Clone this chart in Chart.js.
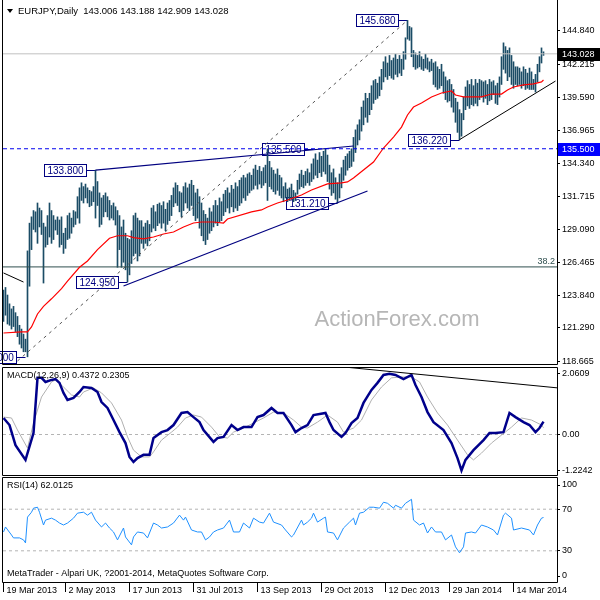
<!DOCTYPE html>
<html>
<head>
<meta charset="utf-8">
<title>EURJPY Daily</title>
<script src="https://cdn.jsdelivr.net/npm/chart.js@4.4.1/dist/chart.umd.min.js"></script>
<style>
  html, body { margin: 0; padding: 0; background: #fff; }
  #wrap { position: relative; width: 600px; height: 600px; overflow: hidden; background: #fff; }
  #wrap canvas { position: absolute; left: 0; }
</style>
</head>
<body>
<div id="wrap">
  <canvas id="priceChart" width="600" height="366" style="top:0px"></canvas>
  <canvas id="macdChart" width="600" height="110" style="top:366px"></canvas>
  <canvas id="rsiChart" width="600" height="124" style="top:476px"></canvas>
</div>
<script>
// ---- data (bar index 0 = 18 Mar 2013, daily bars) ----
var priceHigh = [
  124.6,124.3,124.5,123.9,123.2,122.8,123.0,122.5,122.2,121.5,
  121.2,120.8,120.4,127.4,129.6,130.1,130.6,130.5,131.2,130.8,
  130.6,129.6,129.3,130.2,131.2,130.6,130.2,129.85,130.1,129.85,
  130.1,128.8,129.2,130.2,130.4,130.0,130.6,130.5,131.7,132.4,
  132.8,132.5,132.7,132.4,132.2,132.1,132.5,133.8,132.9,132.0,
  131.6,131.8,132.0,131.7,131.4,131.0,131.2,130.9,130.6,130.2,
  129.3,129.85,128.8,128.4,128.3,129.0,130.2,130.4,130.0,129.8,
  129.8,129.3,129.6,129.8,129.5,130.8,131.0,130.5,131.1,131.2,
  131.0,131.3,130.7,131.2,131.4,131.8,132.4,132.8,132.6,132.1,
  132.0,132.5,132.8,132.4,132.7,133.0,132.6,132.0,132.3,131.7,
  131.2,130.6,130.3,130.0,130.8,130.5,131.0,131.4,131.0,131.6,
  131.3,131.9,132.2,132.4,132.0,132.6,132.3,132.8,132.5,133.0,
  133.2,133.4,133.2,133.5,133.6,133.4,133.9,134.2,133.8,134.1,
  133.7,134.0,134.2,135.5,134.5,134.0,133.8,133.5,133.9,133.4,
  133.2,132.5,132.8,132.3,132.4,132.7,132.2,132.0,133.0,133.5,
  133.8,133.4,133.7,133.9,133.6,134.3,134.7,135.1,134.6,135.2,
  134.9,135.3,135.5,135.0,134.2,133.6,133.9,133.2,132.8,133.5,
  134.0,134.6,134.9,135.1,135.3,135.5,136.4,137.0,137.4,137.8,
  138.8,139.3,139.9,139.5,139.9,140.5,140.9,141.0,140.7,141.2,
  141.8,142.4,142.8,142.3,142.9,142.5,142.7,143.0,142.6,142.9,
  142.6,143.2,144.3,145.68,145.2,145.1,143.3,143.1,142.9,143.2,
  142.8,142.6,143.0,142.7,142.4,142.6,142.3,142.4,142.0,141.8,
  142.2,141.6,141.2,140.9,141.0,140.6,140.2,139.5,139.2,138.6,
  138.3,139.6,140.4,140.9,140.6,141.0,140.5,141.0,140.7,141.0,
  140.9,140.8,140.9,140.6,141.0,140.8,140.9,140.5,140.7,141.2,
  142.8,143.9,143.6,143.3,143.5,142.9,142.4,142.0,142.0,141.9,
  141.6,142.0,141.8,141.5,141.9,141.6,141.0,141.4,142.2,142.8,
  143.5,143.188
];
var priceLow = [
  122.0,121.8,122.3,121.6,121.5,121.2,121.4,121.0,120.6,120.0,
  119.7,119.4,119.4,119.0,124.6,127.5,129.1,128.9,128.0,129.3,
  128.7,124.85,127.7,127.9,128.5,128.0,128.3,129.05,128.7,127.7,
  127.9,127.2,127.6,128.3,128.4,128.8,129.3,129.5,130.0,129.6,
  131.4,131.2,131.6,131.2,130.9,131.0,131.3,130.0,131.0,129.3,
  129.5,130.1,130.5,130.1,129.85,130.0,129.85,129.45,126.1,127.5,
  126.1,126.5,125.9,124.95,125.5,126.4,127.0,127.2,126.6,127.0,
  128.0,127.6,128.0,127.8,128.2,128.9,129.2,129.0,129.4,129.6,
  129.2,129.6,129.0,129.5,129.8,130.2,130.9,131.2,131.0,130.5,
  130.1,130.6,131.2,130.8,130.6,131.0,130.2,129.8,130.0,129.2,
  128.6,128.2,127.9,128.3,128.8,129.0,129.3,129.6,129.4,129.7,
  129.8,130.2,130.5,130.8,130.4,130.9,130.5,130.8,130.6,131.0,
  131.2,131.6,131.4,131.8,132.0,132.2,132.3,132.6,132.3,132.7,
  132.4,132.6,132.8,131.4,132.5,132.3,132.1,131.9,132.2,131.8,
  131.6,131.3,131.6,131.3,131.4,131.5,131.3,131.4,131.9,132.3,
  132.5,132.4,132.6,132.8,132.6,132.9,133.1,133.4,133.2,133.6,
  133.3,133.7,133.5,132.9,132.3,131.8,132.0,131.5,131.21,131.6,
  132.4,133.0,133.4,133.8,134.0,134.1,134.5,135.2,135.8,136.2,
  136.9,137.4,138.0,137.6,138.2,138.6,139.1,139.4,139.5,139.7,
  140.2,140.8,141.2,141.0,141.3,141.1,141.0,141.4,141.2,141.5,
  141.3,141.8,142.6,144.2,144.1,142.8,142.0,141.8,141.9,142.0,
  141.8,141.7,141.9,141.8,141.6,141.7,140.6,140.4,140.2,140.3,
  140.5,139.9,139.4,139.2,139.3,138.8,138.4,137.6,136.8,136.22,
  136.5,137.8,138.6,138.9,138.7,139.0,138.9,139.1,138.9,139.4,
  139.6,139.2,139.5,139.0,139.3,139.4,139.8,139.1,139.0,139.6,
  140.6,141.8,141.5,140.9,141.2,140.6,140.3,140.6,140.5,140.6,
  140.3,140.5,140.2,140.3,140.2,140.2,140.2,140.0,140.8,141.6,
  142.3,142.909
];

var maBars   = [1,10,13,15,18,21,25,30,33,39,43,48,54,58,63,66,71,76,81,86,91,96,100,106,111,113,125,130,133,138,143,150,155,163,170,173,176,181,186,191,196,200,203,206,210,215,220,225,227,231,235,240,245,250,253,256,261,266,270,271];
var maValues = [120.89,120.97,120.97,121.37,122.4,123.0,123.6,124.4,125.0,126.1,126.6,127.5,128.4,128.6,128.6,128.45,128.35,128.5,128.74,128.9,129.3,129.61,129.69,129.69,129.61,129.93,130.49,130.65,130.88,131.2,131.44,131.83,132.23,132.71,132.79,132.87,133.18,133.82,134.45,135.56,136.43,137.22,138.18,138.81,139.13,139.61,139.92,140.08,139.76,139.61,139.61,139.61,139.84,139.84,140.16,140.4,140.56,140.64,140.8,140.95];

var macdBars   = [1,4,7,12,16,18,20,22,25,27,29,31,33,36,39,41,45,48,50,53,56,59,62,64,66,68,71,74,76,80,83,86,90,93,96,99,101,106,108,111,115,118,121,125,128,131,135,138,141,145,147,150,153,156,162,164,166,170,172,175,178,181,185,188,191,194,197,201,205,207,210,213,216,221,225,228,230,232,236,241,244,247,251,254,257,261,264,267,269,271];
var macdValues = [0.56,0.32,-0.36,-0.86,0.05,1.92,1.92,1.78,1.85,1.88,1.75,1.41,1.17,1.24,1.44,1.61,1.58,1.44,1.10,0.90,0.49,0.08,-0.29,-0.76,-0.93,-0.80,-0.69,-0.69,-0.12,0.08,0.15,0.32,0.73,0.76,0.59,0.42,0.15,-0.25,-0.12,-0.08,0.32,0.15,0.25,0.25,0.59,0.66,0.90,0.73,0.73,0.32,0.08,0.22,0.32,0.66,0.73,0.42,0.15,-0.08,0.05,0.39,0.56,1.07,1.51,1.75,2.02,2.06,2.02,1.88,2.02,1.68,1.27,0.76,0.42,0.15,-0.29,-0.80,-1.22,-0.86,-0.53,-0.19,0.05,0.05,0.08,0.73,0.59,0.42,0.32,0.08,0.22,0.4372];
var signalBars   = [1,5,8,13,16,20,25,27,31,35,39,41,46,50,55,60,63,66,70,74,76,80,85,88,92,96,100,105,109,113,116,121,126,131,136,141,146,150,153,158,163,168,171,176,180,185,190,195,200,205,209,213,218,223,228,233,236,240,245,250,255,260,265,270,271];
var signalValues = [0.59,0.56,0.15,-0.46,0.39,1.27,1.78,1.85,1.61,1.34,1.27,1.44,1.58,1.41,1.07,0.49,-0.08,-0.53,-0.76,-0.76,-0.59,-0.19,0.08,0.25,0.56,0.66,0.59,0.25,-0.08,-0.12,0.08,0.22,0.39,0.56,0.76,0.73,0.49,0.25,0.22,0.42,0.66,0.42,0.08,0.22,0.49,1.17,1.61,1.92,1.95,1.95,1.78,1.27,0.73,0.32,-0.19,-0.69,-0.86,-0.63,-0.29,-0.02,0.25,0.56,0.49,0.32,0.2305];

var rsiBars   = [1,2,5,6,9,11,12,13,15,16,18,19,21,22,25,27,29,31,33,36,38,41,43,45,47,50,52,54,56,58,61,62,65,66,68,71,73,76,78,80,83,86,89,91,92,95,98,100,102,104,106,108,111,114,116,119,121,124,126,129,131,134,136,140,142,145,146,150,151,153,155,156,158,161,162,163,166,168,171,174,176,177,179,181,184,186,189,191,193,196,197,200,202,205,206,209,211,213,215,217,220,222,225,227,229,231,232,235,237,240,243,246,248,251,252,255,256,260,264,266,268,270,271];
var rsiValues = [48.1,52.9,45.2,42.4,42.4,40.5,37.6,62.4,67.1,71.0,71.9,67.1,54.8,59.5,61.4,59.5,56.7,54.8,56.7,61.4,66.2,67.1,64.3,67.1,59.5,52.9,56.7,51.9,48.1,40.5,51.9,43.3,35.7,43.3,48.1,47.1,42.4,56.7,54.8,51.9,52.9,56.7,64.3,59.5,62.4,50.0,48.1,48.1,40.5,43.3,48.1,50.0,51.9,59.5,48.1,48.1,56.7,51.9,61.4,57.6,56.7,66.2,57.6,54.8,50.0,43.3,45.2,59.5,54.8,57.6,61.4,66.2,57.6,61.4,62.4,48.1,47.1,40.5,51.9,57.6,61.4,54.8,66.2,67.1,71.9,71.9,71.0,76.7,75.7,71.0,73.8,71.0,75.7,79.5,59.5,54.8,56.7,47.1,52.9,48.1,48.1,40.5,45.2,33.8,28.1,33.8,47.1,48.1,47.1,54.8,52.9,50.0,45.2,64.3,66.2,61.4,50.0,51.9,50.0,45.2,54.8,61.4,62.0125];

var priceTicks = [144.84, 142.215, 139.59, 136.965, 134.34, 131.715, 129.09, 126.465, 123.84, 121.29, 118.665];
var macdTicks  = [2.0609, 0, -1.2242];
var rsiTicks   = [70, 30];
var rsiLevels  = [70, 30];
var dateBars   = [1, 32, 64, 96, 128, 160, 192, 224, 256];
var dateLabels = ['19 Mar 2013', '2 May 2013', '17 Jun 2013', '31 Jul 2013', '13 Sep 2013', '29 Oct 2013', '12 Dec 2013', '29 Jan 2014', '14 Mar 2014'];

var lastPrice = 143.028;
var resistLevel = 135.5;
var fibLevel = 126.13;

// drawn objects (bar index, price)
var upperTrendBars = [47, 176],  upperTrendPrices = [133.8, 135.72];
var lowerTrendBars = [61, 183],  lowerTrendPrices = [124.62, 132.15];
var riseTrendBars  = [229, 277], riseTrendPrices  = [136.22, 140.87];
var fibDiagBars    = [8, 202],   fibDiagPrices    = [118.67, 145.55];
var fibStubBars    = [1, 11],    fibStubPrices    = [125.65, 124.93];
var macdTrendBars  = [171, 278], macdTrendValues  = [2.29, 1.58];

var tagTexts  = ['119.000', '133.800', '124.950', '135.500', '131.210', '145.680', '136.220'];
var tagBars   = [12, 47, 63, 156, 168, 203, 229];
var tagPrices = [119.0, 133.8, 124.95, 135.5, 131.21, 145.68, 136.22];

// ---- drawing ----
var FONT = '"Liberation Sans", Arial, Helvetica, sans-serif';
var X_MIN = 0.75, X_MAX = 277.75;
var NAVY = '#000080';
var BAR_COLOR = '#1b4c66';

function pts(xs, ys) {
  return xs.map(function (x, k) { return { x: x, y: ys[k] }; });
}
function flat(v) { return pts([X_MIN, X_MAX], [v, v]); }
function line(data, color, width, dash, order) {
  return {
    type: 'line', data: data, borderColor: color, borderWidth: width,
    borderDash: dash || [], pointRadius: 0, pointHoverRadius: 0,
    fill: false, tension: 0, order: order
  };
}

function xAxis(show) {
  return {
    type: 'linear', min: X_MIN, max: X_MAX, display: show, offset: false,
    afterBuildTicks: function (s) { s.ticks = dateBars.map(function (v) { return { value: v }; }); },
    afterFit: function (s) {
      s.height = s.options.display ? 18 : 0;
      s.paddingLeft = 0; s.paddingRight = 0;
    },
    ticks: {
      autoSkip: false, maxRotation: 0, align: 'start', labelOffset: 3, padding: -7,
      color: '#000', font: { family: FONT, size: 9 },
      callback: function (v, k) { return dateLabels[k]; }
    },
    grid: { offset: false, drawOnChartArea: false, drawTicks: true, tickLength: 10, color: '#000' },
    border: { display: false }
  };
}

function rightAxis(min, max, tickValues, fmt) {
  return {
    position: 'right', min: min, max: max,
    afterBuildTicks: function (s) { s.ticks = tickValues.map(function (v) { return { value: v }; }); },
    afterFit: function (s) { s.width = 43; s.paddingTop = 0; s.paddingBottom = 0; },
    ticks: { autoSkip: false, padding: 2, color: '#000', font: { family: FONT, size: 9 }, callback: fmt },
    grid: { drawOnChartArea: false, drawTicks: true, tickLength: 3, color: '#000' },
    border: { display: false }
  };
}

function baseOptions(scales, padding) {
  return {
    responsive: false, animation: false, devicePixelRatio: 1, events: [],
    layout: { padding: padding },
    plugins: { legend: { display: false }, tooltip: { enabled: false } },
    scales: scales
  };
}

function frame(ctx, a, withTop) {
  ctx.save();
  ctx.strokeStyle = '#000';
  ctx.lineWidth = 1;
  ctx.beginPath();
  var l = a.left - 0.5, r = a.right + 0.5, t = a.top - 0.5, b = a.bottom + 0.5;
  ctx.moveTo(l, withTop ? t : 0); ctx.lineTo(l, b); ctx.lineTo(r, b); ctx.lineTo(r, withTop ? t : 0);
  if (withTop) { ctx.moveTo(l, t); ctx.lineTo(r, t); }
  ctx.stroke();
  ctx.restore();
}

function axisBox(ctx, chart, value, text, fill) {
  var y = Math.round(chart.scales.y.getPixelForValue(value));
  var left = chart.chartArea.right + 1;
  ctx.fillStyle = fill;
  ctx.fillRect(left, y - 6, chart.width - left, 13);
  ctx.fillStyle = '#fff';
  ctx.font = '9px ' + FONT;
  ctx.textAlign = 'left';
  ctx.textBaseline = 'middle';
  ctx.fillText(text, left + 4, y + 0.5);
}

var priceDecor = {
  id: 'priceDecor',
  beforeDatasetsDraw: function (chart) {
    var ctx = chart.ctx, xs = chart.scales.x, ys = chart.scales.y;
    ctx.save();
    ctx.fillStyle = '#b6b6b6';
    ctx.font = '22px ' + FONT;
    ctx.textAlign = 'center';
    ctx.textBaseline = 'middle';
    ctx.fillText('ActionForex.com', 397, 320);

    ctx.font = '10px ' + FONT;
    ctx.lineWidth = 1;
    tagTexts.forEach(function (t, k) {
      var ax = xs.getPixelForValue(tagBars[k]);
      var ay = Math.round(ys.getPixelForValue(tagPrices[k])) + 0.5;
      var w = Math.round(ctx.measureText(t).width) + 6, h = 12;
      var bx = Math.round(ax - 10 - w) + 0.5, by = Math.round(ay - h / 2) - 0.5;
      ctx.strokeStyle = NAVY;
      ctx.beginPath(); ctx.moveTo(bx + w, ay); ctx.lineTo(ax, ay); ctx.stroke();
      ctx.fillStyle = '#fff';
      ctx.fillRect(bx, by, w, h);
      ctx.strokeRect(bx, by, w, h);
      ctx.fillStyle = NAVY;
      ctx.textAlign = 'left';
      ctx.textBaseline = 'middle';
      ctx.fillText(t, bx + 3, by + h / 2 + 0.5);
    });

    var fy = ys.getPixelForValue(fibLevel);
    ctx.fillStyle = '#2f4f4f';
    ctx.font = '9px ' + FONT;
    ctx.textAlign = 'right';
    ctx.textBaseline = 'bottom';
    ctx.fillText('38.2', chart.chartArea.right - 2, fy - 1);
    ctx.restore();
  },
  afterDraw: function (chart) {
    var ctx = chart.ctx;
    frame(ctx, chart.chartArea, false);
    ctx.save();
    axisBox(ctx, chart, lastPrice, '143.028', '#000');
    axisBox(ctx, chart, resistLevel, '135.500', '#0000ff');
    ctx.fillStyle = '#000';
    ctx.beginPath(); ctx.moveTo(7, 9); ctx.lineTo(13, 9); ctx.lineTo(10, 13); ctx.closePath(); ctx.fill();
    ctx.font = '9.5px ' + FONT;
    ctx.textAlign = 'left';
    ctx.textBaseline = 'middle';
    ctx.fillText('EURJPY,Daily  143.006 143.188 142.909 143.028', 18, 11);
    ctx.restore();
  }
};

var macdDecor = {
  id: 'macdDecor',
  afterDraw: function (chart) {
    var ctx = chart.ctx;
    frame(ctx, chart.chartArea, true);
    ctx.save();
    ctx.fillStyle = '#000';
    ctx.font = '9px ' + FONT;
    ctx.textAlign = 'left';
    ctx.textBaseline = 'middle';
    ctx.fillText('MACD(12,26,9) 0.4372 0.2305', 7, 10);
    ctx.restore();
  }
};

var rsiDecor = {
  id: 'rsiDecor',
  afterDraw: function (chart) {
    var ctx = chart.ctx, a = chart.chartArea, ys = chart.scales.y;
    frame(ctx, a, true);
    ctx.save();
    ctx.fillStyle = '#000';
    ctx.font = '9px ' + FONT;
    ctx.textAlign = 'left';
    ctx.textBaseline = 'middle';
    ctx.fillText('RSI(14) 62.0125', 7, 10);
    ctx.fillText('MetaTrader - Alpari UK, ?2001-2014, MetaQuotes Software Corp.', 7, 98);
    var yTop = ys.getPixelForValue(100) + 7, yBot = ys.getPixelForValue(0) - 6;
    ctx.fillText('100', a.right + 5, yTop);
    ctx.fillText('0', a.right + 5, yBot);
    ctx.strokeStyle = '#000';
    ctx.beginPath();
    ctx.moveTo(a.right, Math.round(yTop) + 0.5); ctx.lineTo(a.right + 3, Math.round(yTop) + 0.5);
    ctx.moveTo(a.right, Math.round(yBot) + 0.5); ctx.lineTo(a.right + 3, Math.round(yBot) + 0.5);
    ctx.stroke();
    ctx.restore();
  }
};

var priceBars = priceHigh.map(function (h, i) { return { x: i, y: [priceLow[i], h] }; });

new Chart(document.getElementById('priceChart'), {
  type: 'bar',
  data: {
    datasets: [
      { type: 'bar', data: priceBars, backgroundColor: BAR_COLOR, borderWidth: 0, barThickness: 1, order: 10 },
      line(flat(fibLevel), '#2f4f4f', 1, null, 9),
      line(flat(lastPrice), '#c0c0c0', 1, null, 9),
      line(pts(maBars, maValues), '#ff0000', 1.2, null, 6),
      line(pts(fibDiagBars, fibDiagPrices), '#555555', 1, [3, 4], 5),
      line(pts(fibStubBars, fibStubPrices), '#000000', 1, null, 5),
      line(pts(upperTrendBars, upperTrendPrices), NAVY, 1.2, null, 3),
      line(pts(lowerTrendBars, lowerTrendPrices), NAVY, 1.2, null, 3),
      line(pts(riseTrendBars, riseTrendPrices), '#000000', 1, null, 3),
      line(flat(resistLevel), '#0000ee', 1, [4, 3], 1)
    ]
  },
  options: baseOptions({
    x: xAxis(false),
    y: rightAxis(118.43, 147.06, priceTicks, function (v) { return v.toFixed(3); })
  }, { left: 3, top: 3, right: 0, bottom: 2 }),
  plugins: [priceDecor]
});

new Chart(document.getElementById('macdChart'), {
  type: 'line',
  data: {
    datasets: [
      line(flat(0), '#b4b4b4', 1, [3, 3], 5),
      line(pts(signalBars, signalValues), '#b0b0b0', 1, null, 3),
      line(pts(macdBars, macdValues), '#00008b', 2.5, null, 2),
      line(pts(macdTrendBars, macdTrendValues), '#000000', 1, null, 1)
    ]
  },
  options: baseOptions({
    x: xAxis(false),
    y: rightAxis(-1.373, 2.254, macdTicks, function (v) { return v === 0 ? '0.00' : String(v); })
  }, { left: 3, top: 2, right: 0, bottom: 1 }),
  plugins: [macdDecor]
});

new Chart(document.getElementById('rsiChart'), {
  type: 'line',
  data: {
    datasets: [
      line(flat(rsiLevels[0]), '#b4b4b4', 1, [3, 3], 5),
      line(flat(rsiLevels[1]), '#b4b4b4', 1, [3, 3], 5),
      line(pts(rsiBars, rsiValues), '#1e90ff', 1, null, 1)
    ]
  },
  options: baseOptions({
    x: xAxis(true),
    y: rightAxis(0, 100, rsiTicks, function (v) { return String(v); })
  }, { left: 3, top: 2, right: 0, bottom: 0 }),
  plugins: [rsiDecor]
});
</script>
</body>
</html>
